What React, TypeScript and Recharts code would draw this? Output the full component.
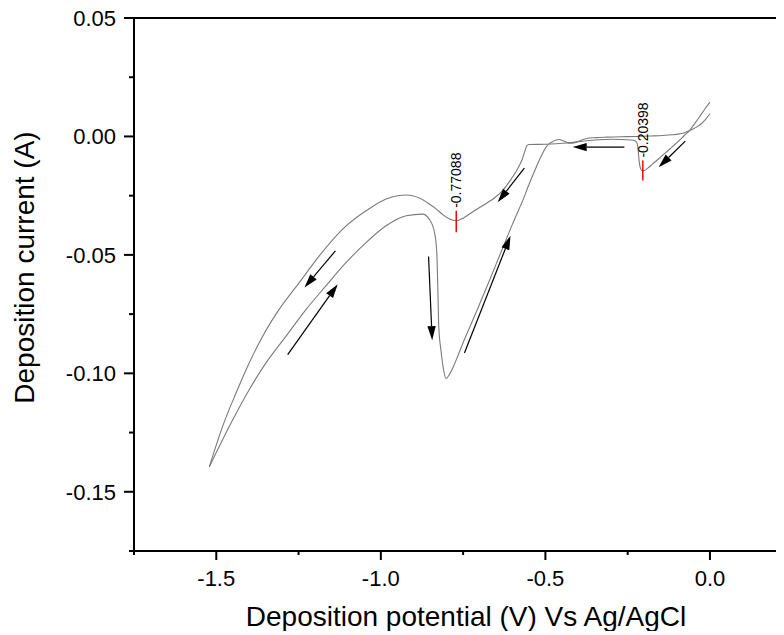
import React from 'react';
import { LineChart, Line, XAxis, YAxis, ReferenceLine } from 'recharts';

// forward scan: 0 V -> -1.52 V
const potentialFwd = [
  0.0, -0.016, -0.032, -0.047, -0.062, -0.078, -0.093, -0.113, -0.133, -0.153, -0.174, -0.19, -0.2, -0.206,
  -0.211, -0.215, -0.218, -0.221, -0.226, -0.24, -0.296, -0.34, -0.376, -0.437, -0.498, -0.549, -0.556,
  -0.563, -0.57, -0.58, -0.59, -0.61, -0.63, -0.655, -0.68, -0.7, -0.725, -0.75, -0.771, -0.79, -0.81,
  -0.832, -0.855, -0.883, -0.903, -0.923, -0.945, -0.984, -1.045, -1.116, -1.187, -1.248, -1.309, -1.359,
  -1.4, -1.44, -1.481, -1.521,
];
const currentFwd = [
  0.0145, 0.0115, 0.0082, 0.0053, 0.0025, 0.0004, -0.0017, -0.0042, -0.0066, -0.0091, -0.0116, -0.0135,
  -0.0144, -0.0145, -0.0135, -0.0105, -0.006, -0.003, -0.0019, -0.0015, -0.0012, -0.0014, -0.0018,
  -0.0028, -0.0033, -0.0034, -0.0038, -0.0065, -0.0095, -0.0125, -0.015, -0.0192, -0.0229, -0.026,
  -0.0283, -0.03, -0.0322, -0.0345, -0.0356, -0.035, -0.0332, -0.0306, -0.0283, -0.026, -0.025, -0.0247,
  -0.0249, -0.0264, -0.0314, -0.0391, -0.0504, -0.0617, -0.073, -0.0843, -0.0956, -0.1083, -0.1225,
  -0.1394,
];

// reverse scan: -1.52 V -> 0 V
const potentialRev = [
  -1.521, -1.45, -1.4, -1.349, -1.288, -1.227, -1.167, -1.106, -1.045, -0.984, -0.923, -0.873, -0.853,
  -0.837, -0.83, -0.827, -0.824, -0.817, -0.81, -0.802, -0.794, -0.782, -0.767, -0.752, -0.725, -0.7,
  -0.675, -0.65, -0.63, -0.6, -0.569, -0.549, -0.528, -0.51, -0.498, -0.488, -0.478, -0.467, -0.457,
  -0.447, -0.437, -0.425, -0.41, -0.39, -0.376, -0.345, -0.315, -0.27, -0.224, -0.18, -0.144, -0.115,
  -0.093, -0.075, -0.062, -0.047, -0.032, -0.016, 0.0,
];
const currentRev = [
  -0.1394, -0.1196, -0.1069, -0.0956, -0.0843, -0.073, -0.0631, -0.0533, -0.0448, -0.0377, -0.0335,
  -0.0328, -0.0349, -0.0405, -0.049, -0.0631, -0.0801, -0.0907, -0.098, -0.1022, -0.101, -0.0979, -0.093,
  -0.0877, -0.079, -0.0708, -0.0625, -0.054, -0.0472, -0.037, -0.0271, -0.02, -0.013, -0.0075, -0.0045,
  -0.003, -0.0022, -0.0015, -0.0013, -0.0018, -0.0024, -0.0029, -0.0026, -0.0015, -0.0009, -0.0005,
  -0.0003, -0.0001, 0.0, 0.0002, 0.0004, 0.0007, 0.0011, 0.0017, 0.0025, 0.0035, 0.0047, 0.0068, 0.0096,
];

// scan direction arrows [potential, current], head at the end point
const arrowFrom: [number, number][] = [
  [-0.075, -0.002], [-0.26, -0.0045], [-0.564, -0.0134], [-0.746, -0.0914],
  [-0.855, -0.0507], [-1.138, -0.0483], [-1.283, -0.0921],
];
const arrowTo: [number, number][] = [
  [-0.156, -0.013], [-0.417, -0.0045], [-0.645, -0.0278], [-0.606, -0.0419],
  [-0.844, -0.086], [-1.232, -0.0638], [-1.131, -0.0624],
];

// peak markers
const peakPotential = [-0.77088, -0.20398];
const peakMarkTop = [-0.0314, -0.0102];
const peakMarkBottom = [-0.0404, -0.0186];

const xTicks = [-1.75, -1.5, -1.25, -1.0, -0.75, -0.5, -0.25, 0.0];
const yTicks = [-0.175, -0.15, -0.125, -0.1, -0.075, -0.05, -0.025, 0.0, 0.025, 0.05];

const FONT = '"Liberation Sans", Arial, sans-serif';

const fwdData = potentialFwd.map((v, i) => ({ v, i: currentFwd[i] }));
const revData = potentialRev.map((v, i) => ({ v, i: currentRev[i] }));

const isMajor = (v: number, step: number) => Math.abs(v / step - Math.round(v / step)) < 1e-6;

const XTick = (props: any) => {
  const { x, y, payload } = props;
  const major = isMajor(payload.value, 0.5);
  return (
    <g>
      <line x1={x} y1={y} x2={x} y2={y + (major ? 9 : 4)} stroke="#000" strokeWidth={2} />
      {major && (
        <text x={x} y={y + 35} textAnchor="middle" fontSize={22} fontFamily={FONT} fill="#000">
          {payload.value.toFixed(1)}
        </text>
      )}
    </g>
  );
};

const YTick = (props: any) => {
  const { x, y, payload } = props;
  const major = isMajor(payload.value, 0.05);
  return (
    <g>
      <line x1={x} y1={y} x2={x - (major ? 10 : 5)} y2={y} stroke="#000" strokeWidth={2} />
      {major && (
        <text x={x - 18} y={y} dy="0.36em" textAnchor="end" fontSize={22} fontFamily={FONT} fill="#000">
          {payload.value.toFixed(2)}
        </text>
      )}
    </g>
  );
};

const Arrow = (props: any) => {
  const { x1, y1, x2, y2 } = props;
  const a = Math.atan2(y2 - y1, x2 - x1);
  const len = 14;
  const half = 4.2;
  const bx = x2 - len * Math.cos(a);
  const by = y2 - len * Math.sin(a);
  const pts = [
    `${x2},${y2}`,
    `${bx + half * Math.sin(a)},${by - half * Math.cos(a)}`,
    `${bx - half * Math.sin(a)},${by + half * Math.cos(a)}`,
  ].join(' ');
  return (
    <g>
      <line x1={x1} y1={y1} x2={bx} y2={by} stroke="#000" strokeWidth={1.2} />
      <polygon points={pts} fill="#000" />
    </g>
  );
};

const peakShape = (label: string) => (props: any) => {
  const { x1, y1, y2 } = props;
  const top = Math.min(y1, y2);
  const tx = x1 + 5;
  const ty = top - 3;
  return (
    <g>
      <line x1={x1} y1={y1} x2={x1} y2={y2} stroke="#ff0000" strokeWidth={1.5} />
      <text x={tx} y={ty} transform={`rotate(-90, ${tx}, ${ty})`} fontSize={14} fontFamily={FONT} fill="#000">
        {label}
      </text>
    </g>
  );
};

const XTitle = (props: any) => {
  const vb = props.viewBox || { x: 126, y: 549, width: 650, height: 80 };
  return (
    <text x={vb.x + vb.width / 2 + 7} y={vb.y + 75} textAnchor="middle" fontSize={28} fontFamily={FONT} fill="#000">
      Deposition potential (V) Vs Ag/AgCl
    </text>
  );
};

const YTitle = (props: any) => {
  const vb = props.viewBox || { x: 0, y: 16, width: 126, height: 533 };
  const bx = 26;
  const cy = vb.y + vb.height / 2 - 17;
  return (
    <text x={bx} y={cy} transform={`rotate(-90, ${bx}, ${cy})`} textAnchor="middle" fontSize={28} fontFamily={FONT} fill="#000">
      Deposition current (A)
    </text>
  );
};

export default function App() {
  return (
    <div style={{ marginTop: -6 }}>
      <LineChart width={776} height={629} margin={{ top: 16, right: 0, bottom: 0, left: 0 }}>
        <XAxis
          type="number"
          dataKey="v"
          domain={[-1.75, 0.225]}
          allowDataOverflow
          ticks={xTicks}
          interval={0}
          tickSize={0}
          tickMargin={0}
          tick={<XTick />}
          axisLine={{ stroke: '#000', strokeWidth: 2 }}
          height={80}
          label={<XTitle />}
        />
        <YAxis
          type="number"
          dataKey="i"
          domain={[-0.175, 0.05]}
          allowDataOverflow
          ticks={yTicks}
          interval={0}
          tickSize={0}
          tickMargin={0}
          tick={<YTick />}
          axisLine={{ stroke: '#000', strokeWidth: 2 }}
          width={126}
          label={<YTitle />}
        />
        <ReferenceLine y={0.05} stroke="#000" strokeWidth={2} />
        <Line data={fwdData} dataKey="i" type="monotone" stroke="#7a7a7a" strokeWidth={1.1} dot={false} isAnimationActive={false} />
        <Line data={revData} dataKey="i" type="monotone" stroke="#7a7a7a" strokeWidth={1.1} dot={false} isAnimationActive={false} />
        {arrowFrom.map((f, k) => (
          <ReferenceLine
            key={`arrow-${k}`}
            segment={[{ x: f[0], y: f[1] }, { x: arrowTo[k][0], y: arrowTo[k][1] }]}
            shape={<Arrow />}
          />
        ))}
        {peakPotential.map((p, k) => (
          <ReferenceLine
            key={`peak-${k}`}
            segment={[{ x: p, y: peakMarkBottom[k] }, { x: p, y: peakMarkTop[k] }]}
            shape={peakShape(p.toFixed(5))}
          />
        ))}
      </LineChart>
    </div>
  );
}
